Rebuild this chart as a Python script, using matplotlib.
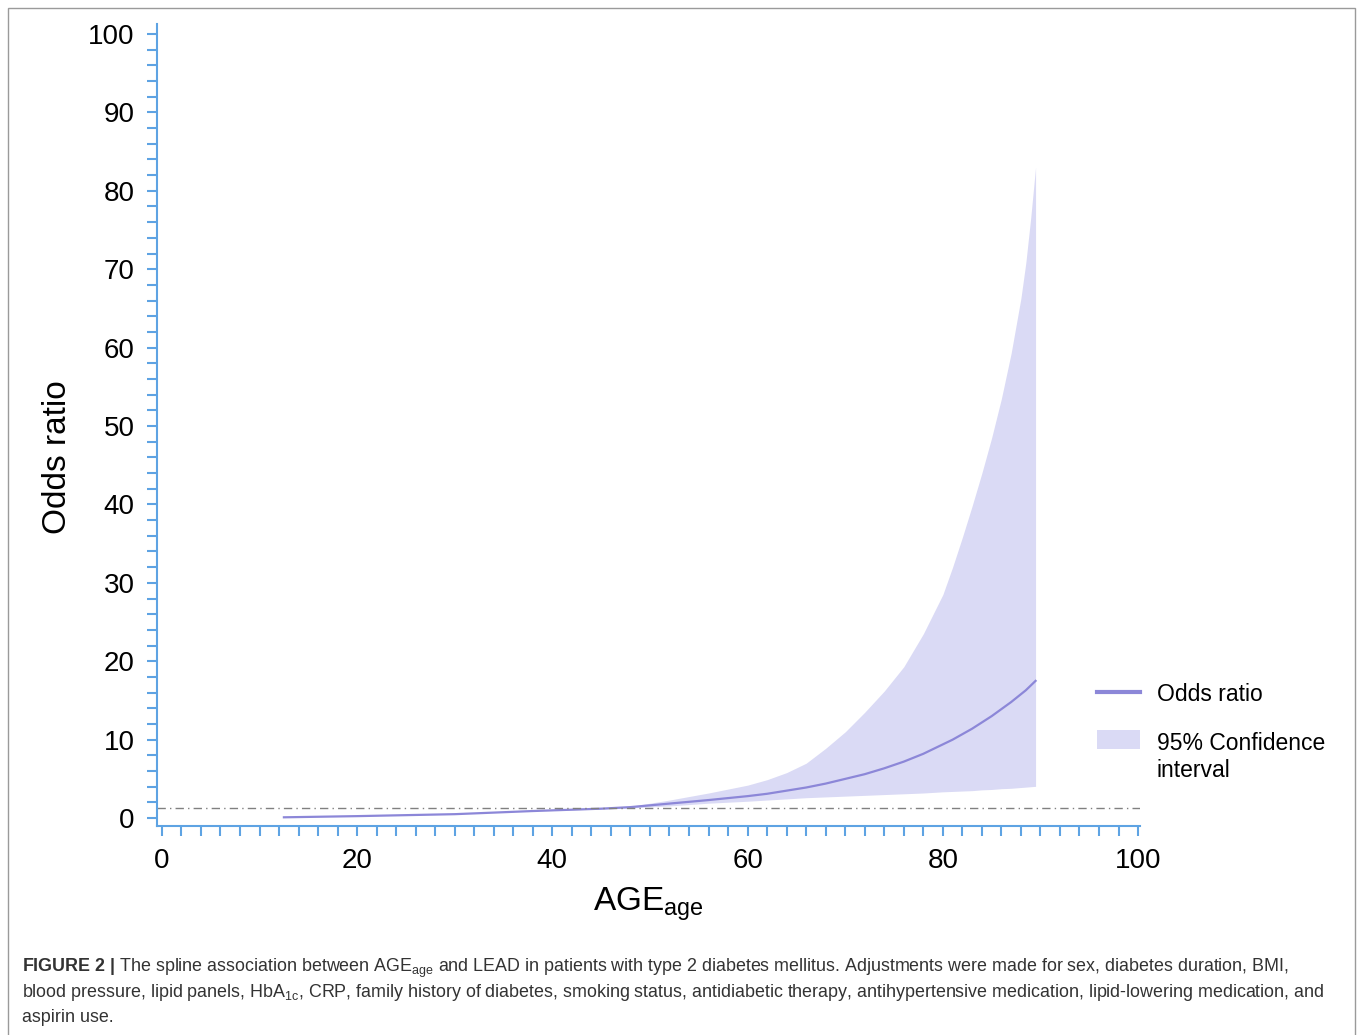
import numpy as np
import matplotlib
matplotlib.use("Agg")
import matplotlib.pyplot as plt
from matplotlib.ticker import MultipleLocator
from matplotlib.patches import Rectangle
from matplotlib.legend_handler import HandlerPatch

plt.rcParams['font.family'] = ['Liberation Sans', 'DejaVu Sans']
plt.rcParams['mathtext.fontset'] = 'custom'
plt.rcParams['mathtext.rm'] = 'Liberation Sans'
plt.rcParams['mathtext.it'] = 'Liberation Sans:italic'
plt.rcParams['mathtext.bf'] = 'Liberation Sans:bold'
plt.rcParams['mathtext.default'] = 'regular'

# values
age = [12.5, 20, 30, 38, 45, 48, 52, 56, 60, 62, 64, 66, 68, 70, 72, 74,
       76, 78, 80, 81, 82, 83, 84, 85, 86, 87, 88, 88.5, 89, 89.5]
odds = [0.1, 0.25, 0.5, 0.9, 1.2, 1.4, 1.85, 2.3, 2.8, 3.1, 3.5, 3.9, 4.4,
        5.0, 5.6, 6.35, 7.2, 8.2, 9.4, 10.0, 10.7, 11.4, 12.2, 13.0, 13.9,
        14.8, 15.8, 16.3, 16.9, 17.5]
ci_upper = [0.1, 0.25, 0.5, 0.9, 1.25, 1.5, 2.3, 3.2, 4.2, 4.9, 5.8, 7.0,
            8.9, 11.0, 13.5, 16.2, 19.3, 23.5, 28.5, 32.0, 35.8, 39.8, 44.0,
            48.5, 53.5, 59.3, 66.3, 70.8, 76.5, 83.0]
ci_lower = [0.1, 0.25, 0.5, 0.9, 1.15, 1.3, 1.55, 1.9, 2.15, 2.3, 2.45, 2.6,
            2.7, 2.8, 2.9, 3.0, 3.1, 3.2, 3.35, 3.4, 3.45, 3.5, 3.6, 3.65,
            3.75, 3.8, 3.9, 3.95, 4.0, 4.05]
ref_or = 1.3

axis_blue = '#5ea3e3'
line_purple = '#8c87d8'
fill_lav = '#dadaf5'

fig = plt.figure(figsize=(13.57, 10.35), dpi=100)
ax = fig.add_axes([0.1157, 0.202, 0.7244, 0.775])

ax.fill_between(age, ci_lower, ci_upper, color=fill_lav, lw=0)
or_line, = ax.plot(age, odds, color=line_purple, lw=1.6)
ax.axhline(ref_or, color='#808080', lw=1, ls=(0, (6, 3, 1, 3)))

ax.set_xlim(-0.5, 100.2)
ax.set_ylim(-1.0, 101.3)

for s in ['top', 'right']:
    ax.spines[s].set_visible(False)
for s in ['left', 'bottom']:
    ax.spines[s].set_color(axis_blue)
    ax.spines[s].set_linewidth(1.5)

ax.xaxis.set_major_locator(MultipleLocator(20))
ax.xaxis.set_minor_locator(MultipleLocator(2))
ax.yaxis.set_major_locator(MultipleLocator(10))
ax.yaxis.set_minor_locator(MultipleLocator(2))
ax.tick_params(which='both', direction='out', color=axis_blue, width=1.5,
               length=7, labelsize=20)
ax.tick_params(axis='y', which='major', pad=9)
ax.tick_params(axis='x', which='major', pad=9)

ax.set_ylabel('Odds ratio', fontsize=24)
ax.yaxis.set_label_coords(-0.085, 0.46)
ax.set_xlabel('AGE$_{age}$', fontsize=24, labelpad=8)


# patch handle lifted so it sits next to the first line of its label
def ci_patch(legend, orig_handle, xdescent, ydescent, width, height, fontsize):
    return Rectangle((-xdescent, -ydescent + 13.5), width, height)


ci_proxy = Rectangle((0, 0), 1, 1, facecolor=fill_lav, lw=0)
leg = ax.legend([or_line, ci_proxy], ['Odds ratio', '95% Confidence\ninterval'],
                loc='upper left', bbox_to_anchor=(0.7934, 0.36),
                bbox_transform=fig.transFigure, frameon=False, fontsize=16.5,
                handlelength=1.85, handleheight=0.95, handletextpad=0.75,
                labelspacing=1.15,
                handler_map={ci_proxy: HandlerPatch(patch_func=ci_patch)})
leg.get_lines()[0].set_linewidth(3)

# caption and frame
fig.patches.append(Rectangle((8 / 1357, -0.02), 1347 / 1357, 1.02 - 8 / 1035,
                             transform=fig.transFigure, fill=False,
                             edgecolor='#9a9a9a', lw=1))
cap = [
    r'$\mathbf{FIGURE\ 2\ |}$ The spline association between AGE$_{age}$ and LEAD in patients with type 2 diabetes mellitus. Adjustments were made for sex, diabetes duration, BMI,',
    r'blood pressure, lipid panels, HbA$_{1c}$, CRP, family history of diabetes, smoking status, antidiabetic therapy, antihypertensive medication, lipid-lowering medication, and',
    'aspirin use.',
]
for i, t in enumerate(cap):
    fig.text(22 / 1357, 1 - (972 + 25 * i) / 1035, t, fontsize=12.9,
             color='#333333', ha='left', va='baseline')

fig.savefig('out.png', dpi=100)
